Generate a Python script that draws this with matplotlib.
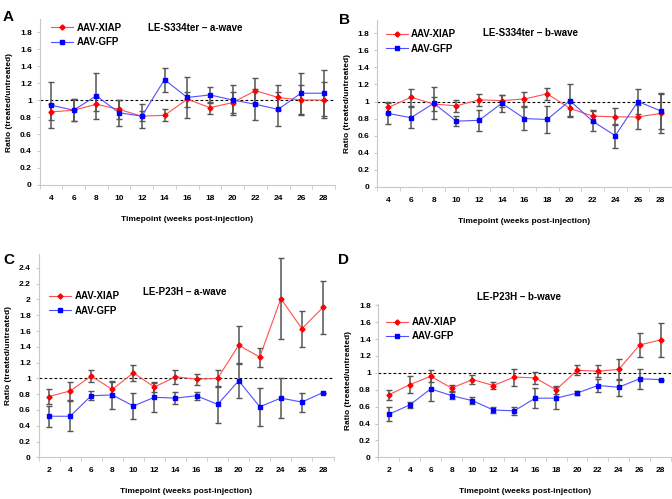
import matplotlib
matplotlib.use("Agg")
import matplotlib.pyplot as plt
import numpy as np

plt.rcParams['font.family'] = ['Liberation Sans', 'DejaVu Sans']
plt.rcParams['font.weight'] = 'bold'

# panels A/B: weeks 4..28, panels C/D: weeks 2..28
weeks_ab = [4, 6, 8, 10, 12, 14, 16, 18, 20, 22, 24, 26, 28]
weeks_cd = [2, 4, 6, 8, 10, 12, 14, 16, 18, 20, 22, 24, 26, 28]

# A: LE-S334ter a-wave
a_xiap = [0.86, 0.88, 0.95, 0.89, 0.81, 0.82, 1.01, 0.91, 0.97, 1.11, 1.03, 1.00, 1.00]
a_xiap_err = [0.09, 0.13, 0.08, 0.11, 0.06, 0.07, 0.09, 0.07, 0.12, 0.15, 0.15, 0.18, 0.21]
a_gfp = [0.94, 0.88, 1.05, 0.85, 0.81, 1.24, 1.03, 1.06, 1.00, 0.95, 0.89, 1.08, 1.08]
a_gfp_err = [0.27, 0.13, 0.27, 0.15, 0.14, 0.14, 0.24, 0.09, 0.18, 0.18, 0.20, 0.24, 0.27]

# B: LE-S334ter b-wave
b_xiap = [0.93, 1.05, 0.97, 0.95, 1.02, 1.01, 1.03, 1.09, 0.92, 0.83, 0.82, 0.82, 0.86]
b_xiap_err = [0.06, 0.10, 0.08, 0.07, 0.07, 0.07, 0.08, 0.07, 0.09, 0.07, 0.10, 0.14, 0.23]
b_gfp = [0.86, 0.81, 0.98, 0.77, 0.78, 0.98, 0.80, 0.79, 1.01, 0.77, 0.60, 1.00, 0.89]
b_gfp_err = [0.12, 0.12, 0.19, 0.06, 0.12, 0.10, 0.13, 0.16, 0.19, 0.12, 0.14, 0.15, 0.21]

# C: LE-P23H a-wave
c_xiap = [0.77, 0.84, 1.03, 0.86, 1.07, 0.89, 1.02, 0.99, 1.00, 1.42, 1.27, 2.01, 1.63, 1.90]
c_xiap_err = [0.09, 0.11, 0.08, 0.10, 0.10, 0.06, 0.09, 0.07, 0.11, 0.24, 0.12, 0.51, 0.23, 0.34]
c_gfp = [0.52, 0.52, 0.78, 0.79, 0.65, 0.76, 0.75, 0.78, 0.67, 0.97, 0.64, 0.75, 0.70, 0.82]
c_gfp_err = [0.13, 0.19, 0.06, 0.18, 0.17, 0.18, 0.08, 0.05, 0.23, 0.22, 0.24, 0.25, 0.12, 0.0]

# D: LE-P23H b-wave
d_xiap = [0.74, 0.86, 0.96, 0.82, 0.92, 0.85, 0.95, 0.94, 0.80, 1.03, 1.02, 1.04, 1.33, 1.39]
d_xiap_err = [0.06, 0.10, 0.07, 0.04, 0.05, 0.04, 0.10, 0.07, 0.05, 0.06, 0.07, 0.12, 0.14, 0.20]
d_gfp = [0.51, 0.62, 0.81, 0.73, 0.67, 0.56, 0.55, 0.70, 0.70, 0.76, 0.85, 0.83, 0.93, 0.92]
d_gfp_err = [0.08, 0.04, 0.14, 0.04, 0.04, 0.04, 0.05, 0.12, 0.13, 0.02, 0.08, 0.10, 0.12, 0.0]

fig = plt.figure(figsize=(6.72, 4.99), dpi=100)


def panel(rect, letter, letter_xy, title, title_xy, leg_xy, weeks, xiap, xiap_err,
          gfp, gfp_err, ymax, yticks):
    ax = fig.add_axes(rect)
    x = np.arange(len(weeks))
    for vals, errs, col, lcol, mk, ms, lab in [
            (xiap, xiap_err, '#ff0000', '#ff5050', 'D', 2.6, 'AAV-XIAP'),
            (gfp, gfp_err, '#0000ff', '#5050ff', 's', 3.5, 'AAV-GFP')]:
        ax.errorbar(x, vals, yerr=errs, fmt='none', ecolor='#555555',
                    elinewidth=1.1, capsize=2.2, capthick=1.0, zorder=3)
        ax.plot(x, vals, color=lcol, lw=0.8, marker=mk, ms=ms,
                mfc=col, mec=col, label=lab, zorder=4)
    ax.axhline(1, color='black', lw=0.8, ls=(0, (2.5, 2)), zorder=2)
    ax.set_xlim(-0.5, len(weeks) - 0.5)
    ax.set_ylim(0, ymax)
    ax.set_xticks(x)
    ax.set_xticklabels([str(w) for w in weeks])
    ax.set_xticks(np.arange(len(weeks) + 1) - 0.5, minor=True)
    ax.set_yticks(yticks)
    ax.set_yticklabels(['%g' % t for t in yticks])
    ax.tick_params(axis='x', which='major', length=0, pad=7, labelsize=6)
    ax.tick_params(axis='x', which='minor', length=3, color='#c8c8c8', direction='out')
    ax.tick_params(axis='y', length=2.5, color='#c8c8c8', pad=3, labelsize=6)
    for s in ['top', 'right']:
        ax.spines[s].set_visible(False)
    for s in ['left', 'bottom']:
        ax.spines[s].set_color('#c8c8c8')
        ax.spines[s].set_linewidth(0.8)
    ax.set_xlabel('Timepoint (weeks post-injection)', fontsize=6, fontweight='bold', labelpad=10)
    ax.set_ylabel('Ratio (treated/untreated)', fontsize=6, fontweight='bold', labelpad=5)
    ax.text(title_xy[0], title_xy[1], title, transform=ax.transAxes, ha='center',
            va='center', fontsize=7, fontweight='bold')
    ax.legend(loc='center left', bbox_to_anchor=leg_xy, frameon=False,
              handlelength=2.3, handletextpad=0.3, labelspacing=0.45,
              borderpad=0, borderaxespad=0, prop={'weight': 'bold', 'size': 7})
    fig.text(letter_xy[0] / 672, 1 - letter_xy[1] / 499, letter, fontsize=11,
             fontweight='bold', ha='left', va='baseline')
    return ax


yt18 = [0, 0.2, 0.4, 0.6, 0.8, 1, 1.2, 1.4, 1.6, 1.8]
yt24 = [0, 0.2, 0.4, 0.6, 0.8, 1, 1.2, 1.4, 1.6, 1.8, 2, 2.2, 2.4]

panel([0.0588, 0.6293, 0.4397, 0.332], 'A', (3, 21), 'LE-S334ter \u2013 a-wave',
      (0.526, 0.947), (0.039, 0.905), weeks_ab, a_xiap, a_xiap_err, a_gfp, a_gfp_err,
      1.95, yt18)
panel([0.561, 0.6253, 0.439, 0.334], 'B', (339, 24), 'LE-S334ter \u2013 b-wave',
      (0.522, 0.924), (0.03, 0.873), weeks_ab, b_xiap, b_xiap_err, b_gfp, b_gfp_err,
      1.95, yt18)
panel([0.0573, 0.0836, 0.439, 0.408], 'C', (3, 264), 'LE-P23H \u2013 a-wave',
      (0.497, 0.814), (0.036, 0.755), weeks_cd, c_xiap, c_xiap_err, c_gfp, c_gfp_err,
      2.58, yt24)
panel([0.5632, 0.0836, 0.4353, 0.308], 'D', (338, 264), 'LE-P23H \u2013 b-wave',
      (0.48, 1.04), (0.026, 0.833), weeks_cd, d_xiap, d_xiap_err, d_gfp, d_gfp_err,
      1.82, yt18)

fig.savefig('out.png', dpi=100)
